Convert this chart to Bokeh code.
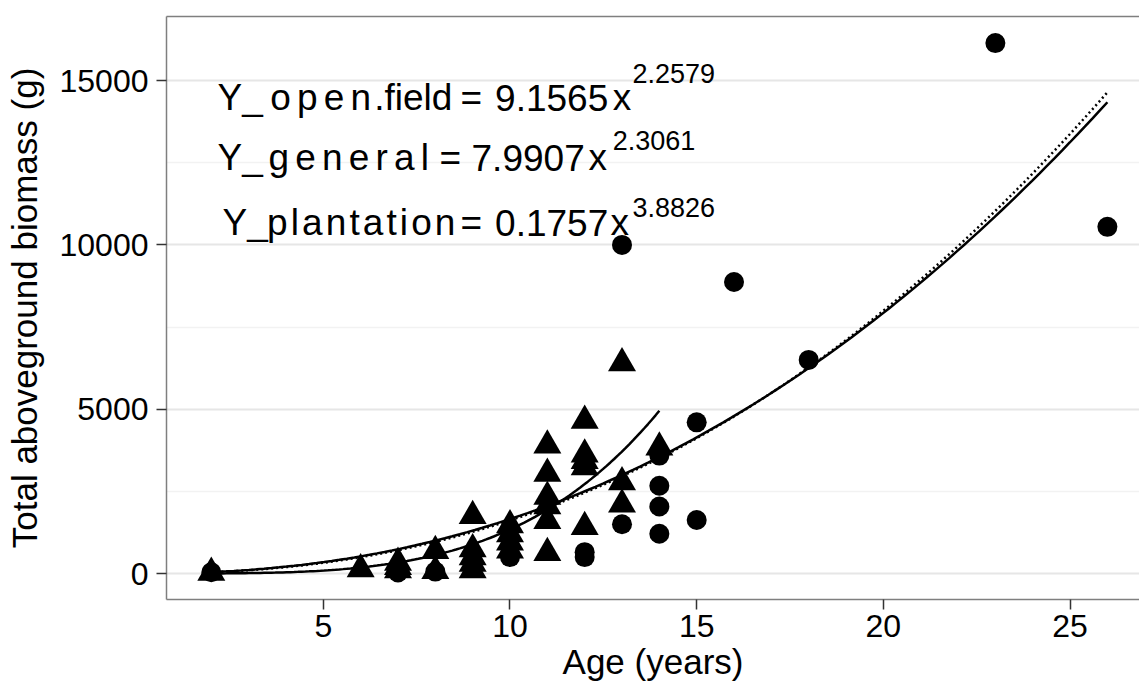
import numpy as np
from bokeh.plotting import figure
from bokeh.models import Label, LinearAxis, Range1d, FixedTicker
from bokeh.embed import file_html
from bokeh.resources import INLINE

# ---------------- data ----------------
open_age = [2, 7, 8, 10, 12, 12, 13, 13, 14, 14, 14, 14, 15, 15, 16, 18, 23, 26]
open_biomass = [40, 30, 60, 500, 650, 500, 1500, 10000, 3590, 2670, 2040, 1210,
                4600, 1630, 8870, 6500, 16140, 10550]

plant_age = [2, 6, 7, 7, 7, 8, 8, 9, 9, 9, 9, 9, 10, 10, 10, 10,
             11, 11, 11, 11, 11, 11, 12, 12, 12, 12, 12, 13, 13, 13, 14]
plant_biomass = [30, 135, 330, 200, 100, 685, 80, 1750, 745, 500, 300, 100,
                 1470, 1200, 950, 700, 3900, 3040, 2340, 2050, 1600, 630,
                 4650, 3625, 3430, 3240, 1420, 6400, 2780, 2100, 3840]

# fitted power curves shown on the chart: Y = a * x^b
fit_names = ["open.field", "general", "plantation"]
fit_a = [9.1565, 7.9907, 0.1757]
fit_b = [2.2579, 2.3061, 3.8826]
fit_xmin = [2, 2, 2]
fit_xmax = [26, 26, 14]
fit_dash = ["solid", "2 3", "solid"]

x_ticks = [5, 10, 15, 20, 25]
x_minor = [2.5, 7.5, 12.5, 17.5, 22.5]
y_ticks = [0, 5000, 10000, 15000]
y_minor = [2500, 7500, 12500]

FONT = "Liberation Sans"

p = figure(width=1139, height=687, output_backend="svg", toolbar_location=None,
           x_range=Range1d(0.8, 26.86), y_range=Range1d(-790, 16950),
           min_border_left=166, min_border_right=0, min_border_top=16,
           min_border_bottom=88)
p.outline_line_color = None
p.background_fill_color = "white"
p.border_fill_color = "white"

p.xaxis.ticker = FixedTicker(ticks=x_ticks, minor_ticks=x_minor)
p.yaxis.ticker = FixedTicker(ticks=y_ticks, minor_ticks=y_minor)

for ax in (p.xaxis, p.yaxis):
    ax.axis_line_color = "#7f7f7f"
    ax.axis_line_width = 1.5
    ax.major_tick_line_color = "#333333"
    ax.major_tick_line_width = 1.5
    ax.major_tick_out = 10
    ax.major_tick_in = 0
    ax.minor_tick_out = 0
    ax.minor_tick_in = 0
    ax.major_label_text_font = FONT
    ax.major_label_text_font_size = "32px"
    ax.major_label_text_color = "black"
    ax.axis_label_text_font = FONT
    ax.axis_label_text_font_size = "35px"
    ax.axis_label_text_font_style = "normal"
    ax.axis_label_text_color = "black"
p.xaxis.major_label_standoff = 5
p.yaxis.major_label_standoff = 8
p.xaxis.axis_label_standoff = 2
p.yaxis.axis_label_standoff = 13
p.xaxis.axis_label = "Age (years)"
p.yaxis.axis_label = "Total aboveground biomass (g)"

top = LinearAxis(ticker=FixedTicker(ticks=[]), major_label_text_font_size="0px",
                 major_tick_out=0, major_tick_in=0, minor_tick_out=0, minor_tick_in=0,
                 major_label_standoff=0, axis_line_color="#7f7f7f", axis_line_width=1.5)
p.add_layout(top, "above")

for g in (p.xgrid, p.ygrid):
    g.grid_line_color = "#e6e6e6"
    g.grid_line_width = 2
    g.minor_grid_line_color = "#f2f2f2"
    g.minor_grid_line_width = 1.5
p.ygrid.ticker = p.yaxis[0].ticker
p.xgrid.ticker = p.xaxis[0].ticker

# fitted curves
for a, b, lo, hi, dash in zip(fit_a, fit_b, fit_xmin, fit_xmax, fit_dash):
    xs = np.linspace(lo, hi, 120)
    p.line(xs, a * xs ** b, line_color="black", line_width=2.5, line_dash=dash)

# points
p.scatter(plant_age, plant_biomass, marker="triangle", size=28,
          fill_color="black", line_color="black", line_width=0)
p.scatter(open_age, open_biomass, marker="circle", size=20,
          fill_color="black", line_color="black", line_width=0)

# equations (plotmath-like pieces)
HS = "\u200a"
H2 = HS + HS
L1, L2, L3 = 14480, 12645, 10680
S1, S2, S3 = 15220, 13180, 11150
eq_pieces = [
    ("Y_", 2.166, L1, "37px"),
    (H2.join("open") + HS + ".field", 3.578, L1, "37px"),
    ("=", 8.676, L1, "37px"),
    ("9.1565", 9.60, L1, "37px"),
    ("x", 12.75, L1, "37px"),
    ("2.2579", 13.28, S1, "27px"),
    ("Y_", 2.166, L2, "37px"),
    (H2.join("general"), 3.53, L2, "37px"),
    ("=", 8.113, L2, "37px"),
    ("7.9907", 8.97, L2, "37px"),
    ("x", 12.10, L2, "37px"),
    ("2.3061", 12.75, S2, "27px"),
    ("Y_", 2.30, L3, "37px"),
    (HS.join("plantation"), 3.495, L3, "37px"),
    ("=", 8.676, L3, "37px"),
    ("0.1757", 9.60, L3, "37px"),
    ("x", 12.69, L3, "37px"),
    ("3.8826", 13.28, S3, "27px"),
]
for txt, x, y, fs in eq_pieces:
    p.add_layout(Label(x=x, y=y, text=txt, text_font=FONT, text_font_size=fs,
                       text_color="black", text_baseline="alphabetic", text_align="left"))

open("out.html", "w").write(file_html(p, INLINE))
